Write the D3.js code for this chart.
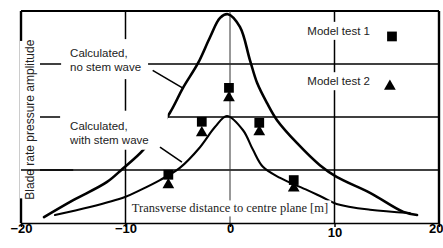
<!DOCTYPE html>
<html>
<head>
<meta charset="utf-8">
<script src="https://cdn.jsdelivr.net/npm/d3@7"></script>
<style>
  html, body { margin: 0; padding: 0; background: #fff; }
  svg { display: block; }
  .lbl { font-family: "Liberation Sans", Arial, sans-serif; font-size: 11.5px; fill: #222; }
  .tick text { font-family: "Liberation Sans", Arial, sans-serif; font-weight: bold; font-size: 13px; fill: #000; }
</style>
</head>
<body>
<script>
var width = 443, height = 248;

// x axis ticks (m) and horizontal grid levels
const xTicks = [-20, -10, 0, 10, 20];
const yGrid = [1, 2, 3, 4];

// calculated, no stem wave
const noStemX = [-17.8, -15.0, -11.8, -10.3, -8.3, -5.75, -4.5, -3.05, -1.9, -0.95, -0.2, 0.95, 1.9, 2.6, 3.55, 4.5, 6.4, 8.6, 10.2, 13.4, 16.6, 17.9];
const noStemY = [0.11, 0.43, 0.77, 1.02, 1.38, 2.08, 2.55, 3.02, 3.51, 3.87, 3.94, 3.70, 3.08, 2.64, 2.26, 1.94, 1.51, 1.09, 0.87, 0.57, 0.21, 0.15];

// calculated, with stem wave
const stemX = [-16.75, -13.4, -10.05, -8.6, -6.7, -4.8, -2.87, -1.44, -0.29, 1.25, 2.2, 3.15, 4.8, 7.4, 8.8, 10.2, 13.4, 17.2];
const stemY = [0.15, 0.30, 0.49, 0.62, 0.81, 1.04, 1.43, 1.81, 2.02, 1.75, 1.38, 1.06, 0.85, 0.62, 0.49, 0.36, 0.25, 0.19];

// model tests
const testX = [-5.9, -2.7, -0.1, 2.8, 6.1];
const test1Y = [0.91, 1.91, 2.55, 1.89, 0.81];
const test2Y = [0.72, 1.70, 2.36, 1.72, 0.66];

const legendLabels = ["Model test 1", "Model test 2"];
const curveLabels = [["Calculated,", "no stem wave"], ["Calculated,", "with stem wave"]];

let svg = d3.select("body").append("svg").attr("width", width).attr("height", height);

const x = d3.scaleLinear().domain([-20, 20]).range([21, 439]);
const y = d3.scaleLinear().domain([0, 4]).range([223, 11]);

let gGrid = svg.append("g");

// horizontal grid lines
gGrid.selectAll(".hgrid")
    .data(yGrid)
    .enter()
    .append("line")
    .attr("x1", x(-20)).attr("x2", x(20))
    .attr("y1", d => y(d)).attr("y2", d => y(d))
    .attr("stroke", "#000")
    .attr("stroke-width", d => d == 4 ? 2 : 1.6);

// vertical grid lines
gGrid.selectAll(".vgrid")
    .data(xTicks)
    .enter()
    .append("line")
    .attr("x1", d => x(d)).attr("x2", d => x(d))
    .attr("y1", y(4)).attr("y2", y(0))
    .attr("stroke", d => d == 0 ? "#333" : "#000")
    .attr("stroke-width", d => d == 0 ? 1 : (Math.abs(d) == 20 ? 2.4 : 1.5));

// curves
const line = d3.line().x(d => x(d[0])).y(d => y(d[1])).curve(d3.curveCatmullRom.alpha(0.5));

svg.append("path")
    .datum(d3.zip(noStemX, noStemY))
    .attr("d", line)
    .attr("fill", "none")
    .attr("stroke", "#000")
    .attr("stroke-width", 2.6)
    .attr("stroke-linecap", "round");

svg.append("path")
    .datum(d3.zip(stemX, stemY))
    .attr("d", line)
    .attr("fill", "none")
    .attr("stroke", "#000")
    .attr("stroke-width", 2.1)
    .attr("stroke-linecap", "round");

// x axis
let gAxis = svg.append("g").attr("transform", `translate(0,${y(0)})`)
    .call(d3.axisBottom(x).tickValues(xTicks).tickSize(4).tickSizeOuter(0).tickFormat(d3.format("d")));
gAxis.select(".domain").attr("stroke", "#000").attr("stroke-width", 1.6);
gAxis.selectAll(".tick line").attr("stroke", "#000").attr("stroke-width", 1.5);
gAxis.selectAll(".tick text")
    .attr("y", 2)
    .attr("dy", d => d == 10 ? "0.95em" : "0.6em")
    .attr("text-anchor", d => d == 20 ? "end" : "middle")
    .attr("x", d => d == 20 ? 4 : 0);

// text with white backing box
function boxedText(g, lines, tx, ty, pad, cls, anchor) {
    let t = g.append("text").attr("class", cls).attr("text-anchor", anchor || "start");
    lines.forEach((s, i) => {
        t.append("tspan").attr("x", tx).attr("y", ty + i * 14).text(s);
    });
    let b = t.node().getBBox();
    g.insert("rect", "text")
        .attr("x", b.x - pad[0]).attr("y", b.y - pad[1])
        .attr("width", b.width + pad[0] + pad[2])
        .attr("height", b.height + pad[1] + pad[3])
        .attr("fill", "#fff");
    return t;
}

let gLabels = svg.append("g");

// curve labels + leader lines
boxedText(gLabels.append("g"), curveLabels[0], x(-15.3), y(3.13), [9, 8, 7, 6], "lbl");
boxedText(gLabels.append("g"), curveLabels[1], x(-15.3), y(1.76), [9, 9, 19, 4], "lbl");

const leaders = [[[-7.4, 2.88], [-4.55, 2.55]], [[-6.7, 1.43], [-4.6, 1.15]]];
gLabels.selectAll(".leader")
    .data(leaders)
    .enter()
    .append("line")
    .attr("x1", d => x(d[0][0])).attr("y1", d => y(d[0][1]))
    .attr("x2", d => x(d[1][0])).attr("y2", d => y(d[1][1]))
    .attr("stroke", "#000").attr("stroke-width", 1.6);

// axis titles
let gY = gLabels.append("g").attr("transform", `translate(${x(-20) + 13},${y(1.95)}) rotate(-90)`);
boxedText(gY, ["Blade rate pressure amplitude"], 0, 0, [2, 1, 2, 3], "lbl", "middle").style("font-size", "12px");
gY.select("rect").attr("y", -14).attr("height", 20);

// lowest grid line runs over the y title
gLabels.append("line")
    .attr("x1", x(-20)).attr("x2", x(-15))
    .attr("y1", y(yGrid[0])).attr("y2", y(yGrid[0]))
    .attr("stroke", "#000").attr("stroke-width", 1.6);

let gX = gLabels.append("g");
let xt = gX.append("text").attr("class", "lbl").attr("text-anchor", "middle")
    .attr("x", x(0)).attr("y", y(0.2))
    .style("font-family", "'Liberation Serif', 'Times New Roman', serif").style("font-size", "12.5px")
    .text("Transverse distance to centre plane [m]");
let tb = xt.node().getBBox();
gX.insert("rect", "text").attr("x", tb.x - 3).attr("y", tb.y - 1).attr("width", tb.width + 6).attr("height", tb.height + 2).attr("fill", "#fff");

// legend
legendLabels.forEach((s, i) => {
    boxedText(gLabels.append("g"), [s], x(10.4), y(3.55 - i * 0.95), [6, 3, 6, 3], "lbl", "middle");
});

// markers
const square = d3.symbol().type(d3.symbolSquare).size(95);
const triangle = d3.symbol().type(d3.symbolTriangle).size(60);

svg.selectAll(".m1")
    .data(d3.zip(testX, test1Y))
    .enter()
    .append("path")
    .attr("d", square)
    .attr("transform", d => `translate(${x(d[0])},${y(d[1])})`)
    .attr("fill", "#000");

svg.selectAll(".m2")
    .data(d3.zip(testX, test2Y))
    .enter()
    .append("path")
    .attr("d", triangle)
    .attr("transform", d => `translate(${x(d[0])},${y(d[1])})`)
    .attr("fill", "#000");

// legend symbols
svg.append("path").attr("d", square).attr("transform", `translate(${x(15.5)},${y(3.52)})`).attr("fill", "#000");
svg.append("path").attr("d", triangle).attr("transform", `translate(${x(15.3)},${y(2.58)})`).attr("fill", "#000");
</script>
</body>
</html>
